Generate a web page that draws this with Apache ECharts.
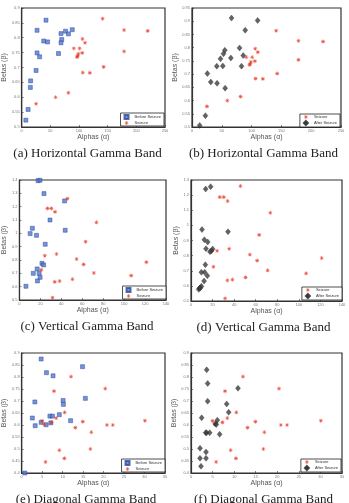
<!DOCTYPE html>
<html>
<head>
<meta charset="utf-8">
<script src="https://cdn.jsdelivr.net/npm/echarts@6/dist/echarts.min.js"></script>
<style>
    html, body {margin: 0; padding: 0; background: #fff;}
    #main {width: 349px; height: 503px;}
</style>
</head>
<body>
<div id="main"></div>
<script>
// horizontal gamma band  [alpha, beta]
const hBefore = [[42.4, 0.859], [26.8, 0.825], [76.5, 0.822], [88.2, 0.827], [68.6, 0.814], [81.5, 0.813],
    [38.5, 0.789], [45.2, 0.786], [69.8, 0.794], [68.6, 0.783], [26.8, 0.749], [31.3, 0.736], [64.2, 0.747],
    [25.1, 0.690], [15.6, 0.655], [15.1, 0.633], [11.2, 0.559], [7.3, 0.523]];
const hSeizure = [[141.2, 0.864], [178.6, 0.826], [219.9, 0.823], [106.0, 0.796], [110.5, 0.783], [91.0, 0.764],
    [101.0, 0.764], [105.5, 0.749], [98.8, 0.746], [97.8, 0.739], [96.5, 0.735], [178.6, 0.754], [142.9, 0.702],
    [106.6, 0.683], [118.9, 0.682], [81.5, 0.615], [59.2, 0.600], [25.1, 0.578]];
const hAfter = [[66.3, 0.912], [110.1, 0.903], [89.3, 0.866], [79.8, 0.799], [55.1, 0.790], [52.8, 0.777],
    [86.0, 0.770], [47.8, 0.758], [65.2, 0.761], [41.6, 0.730], [51.7, 0.731], [83.1, 0.730], [25.8, 0.702],
    [31.5, 0.670], [42.1, 0.665], [55.6, 0.647], [22.5, 0.543], [12.9, 0.506]];

// vertical gamma band
const vBefore = [[17.8, 1.395], [19.6, 1.398], [23.4, 1.298], [43.1, 1.243], [29.2, 1.100], [12.3, 1.038],
    [10.2, 0.998], [16.3, 0.985], [43.7, 1.023], [24.6, 0.918], [21.5, 0.775], [23.1, 0.763], [16.9, 0.733],
    [13.2, 0.700], [18.8, 0.700], [19.7, 0.670], [17.2, 0.643], [6.2, 0.603]];
const vSeizure = [[45.8, 1.260], [26.7, 1.187], [30.4, 1.187], [34.0, 1.161], [73.5, 1.083], [63.2, 0.937],
    [35.4, 0.845], [24.2, 0.832], [54.6, 0.807], [61.3, 0.767], [121.2, 0.784], [20.8, 0.726], [71.1, 0.703],
    [106.7, 0.683], [50.6, 0.656], [38.4, 0.642], [33.7, 0.636], [31.6, 0.517]];
const vAfter = [[13.6, 1.240], [18.2, 1.256], [10.2, 0.972], [34.3, 0.958], [12.4, 0.905], [15.5, 0.890],
    [13.9, 0.846], [20.1, 0.844], [18.9, 0.831], [17.6, 0.826], [13.3, 0.740], [9.6, 0.690], [12.7, 0.690],
    [15.1, 0.667], [12.1, 0.632], [9.6, 0.597], [7.1, 0.577], [8.0, 0.584], [8.7, 0.588]];

// diagonal gamma band
const dBefore = [[4.75, 0.875], [14.86, 0.843], [6.05, 0.818], [7.66, 0.805], [15.55, 0.711], [3.22, 0.696],
    [10.11, 0.702], [10.18, 0.686], [9.19, 0.643], [6.89, 0.637], [7.51, 0.637], [2.60, 0.629], [11.95, 0.618],
    [4.75, 0.611], [3.29, 0.597], [5.97, 0.601], [7.12, 0.609], [0.77, 0.400]];
const dSeizure = [[12.05, 0.802], [20.4, 0.752], [7.89, 0.741], [10.49, 0.653], [8.42, 0.629], [4.98, 0.617],
    [5.51, 0.603], [7.28, 0.611], [14.93, 0.614], [30.10, 0.618], [20.83, 0.600], [22.26, 0.600], [13.10, 0.589],
    [17.00, 0.570], [16.77, 0.500], [9.19, 0.495], [10.42, 0.461], [5.82, 0.446]];
const dAfter = [[3.63, 0.830], [3.86, 0.773], [10.89, 0.753], [3.86, 0.699], [8.27, 0.688], [8.73, 0.653],
    [2.47, 0.630], [6.10, 0.620], [5.64, 0.605], [5.87, 0.602], [3.40, 0.568], [3.63, 0.568], [4.33, 0.568],
    [6.64, 0.561], [2.09, 0.503], [3.48, 0.487], [2.09, 0.461], [3.48, 0.461], [2.32, 0.428]];

const captions = ['(a) Horizontal Gamma Band', '(b) Horizontal Gamma Band', '(c) Vertical Gamma Band',
    '(d) Vertical Gamma Band', '(e) Diagonal Gamma Band', '(f) Diagonal Gamma Band'];

// x range / y range per panel
const xRanges = [[0, 250, 50], [0, 250, 50], [0, 140, 20], [0, 140, 20], [0, 35, 5], [0, 35, 5]];
const yRanges = [[0.5, 0.9, 0.05], [0.5, 0.95, 0.05], [0.5, 1.4, 0.1], [0.5, 1.3, 0.1], [0.4, 0.9, 0.05], [0.4, 0.9, 0.05]];

const grids = [
    {left: 16, top: 8, width: 149, height: 119},
    {left: 192, top: 8, width: 149, height: 119},
    {left: 14, top: 180, width: 152, height: 120},
    {left: 191, top: 180, width: 151, height: 121},
    {left: 13, top: 353, width: 152, height: 120},
    {left: 191, top: 353, width: 151, height: 120}
];
const legendPos = [
    {right: 185, bottom: 377}, {right: 9, bottom: 376},
    {right: 183, bottom: 204}, {right: 7, bottom: 203},
    {right: 184, bottom: 31}, {right: 8, bottom: 31}
];

const sans = 'Liberation Sans';
const star = 'path://M-0.15,-1H0.15V1H-0.15Z M-1,-0.15H1V0.15H-1Z M-0.81,-0.6L-0.6,-0.81L0.81,0.6L0.6,0.81Z M0.6,-0.81L0.81,-0.6L-0.6,0.81L-0.81,0.6Z';

const fmt = v => String(Number(v.toFixed(2)));

const before = (data, i) => ({
    name: 'Before Seizure', type: 'scatter', xAxisIndex: i, yAxisIndex: i, data: data,
    symbol: 'rect', symbolSize: 4,
    itemStyle: {color: '#5577cc', borderColor: '#2b4a9e', borderWidth: 0.6}
});
const seizure = (data, i) => ({
    name: 'Seizure', type: 'scatter', xAxisIndex: i, yAxisIndex: i, data: data,
    symbol: star, symbolSize: 4,
    itemStyle: {color: '#e8321e'}
});
const after = (data, i) => ({
    name: 'After Seizure', type: 'scatter', xAxisIndex: i, yAxisIndex: i, data: data,
    symbol: 'diamond', symbolSize: [5, 6],
    itemStyle: {color: '#3c3c3c', borderColor: '#222', borderWidth: 0.4}
});

const series = [
    before(hBefore, 0), seizure(hSeizure, 0),
    seizure(hSeizure, 1), after(hAfter, 1),
    before(vBefore, 2), seizure(vSeizure, 2),
    seizure(vSeizure, 3), after(vAfter, 3),
    before(dBefore, 4), seizure(dSeizure, 4),
    seizure(dSeizure, 5), after(dAfter, 5)
];

const myChart = echarts.init(document.getElementById('main'));
myChart.setOption({
    animation: false,
    grid: grids.map(g => Object.assign({show: true, borderColor: '#333', borderWidth: 1.2, backgroundColor: '#fff'}, g)),
    xAxis: xRanges.map((r, i) => ({
        type: 'value', gridIndex: i, min: r[0], max: r[1], interval: r[2],
        name: 'Alphas (α)', nameLocation: 'middle', nameGap: 7,
        nameTextStyle: {fontFamily: sans, fontSize: 7, color: '#555'},
        axisLine: {lineStyle: {color: '#333', width: 1.2}},
        axisTick: {inside: true, length: 2, lineStyle: {color: '#333', width: 0.6}},
        axisLabel: {fontFamily: sans, fontSize: 4, color: '#777', margin: 2, formatter: fmt},
        splitLine: {show: false}
    })),
    yAxis: yRanges.map((r, i) => ({
        type: 'value', gridIndex: i, min: r[0], max: r[1], interval: r[2],
        name: 'Betas (β)', nameLocation: 'middle', nameGap: 9,
        nameTextStyle: {fontFamily: sans, fontSize: 7, color: '#555'},
        axisLine: {lineStyle: {color: '#333', width: 1.2}},
        axisTick: {inside: true, length: 2, lineStyle: {color: '#333', width: 0.6}},
        axisLabel: {fontFamily: sans, fontSize: 4, color: '#777', margin: 2, formatter: fmt},
        splitLine: {show: false}
    })),
    legend: legendPos.map((p, i) => Object.assign({
        orient: 'vertical',
        data: i % 2 === 0 ? ['Before Seizure', 'Seizure'] : ['Seizure', 'After Seizure'],
        itemWidth: 4, itemHeight: 4, itemGap: 1,
        padding: [1, 3, 1, 3],
        borderColor: '#222', borderWidth: 0.8, backgroundColor: '#fff',
        textStyle: {fontFamily: sans, fontSize: 4, color: '#333', padding: [0, 0, 0, 1]},
        selectedMode: false
    }, p)),
    graphic: captions.map((c, i) => ({
        type: 'text',
        x: grids[i].left + grids[i].width / 2 - 3,
        y: grids[i].top + grids[i].height + 27,
        style: {
            text: c, fontFamily: 'Liberation Serif', fontSize: 13, fill: '#222',
            textAlign: 'center', textVerticalAlign: 'middle'
        }
    })),
    series: series
});
</script>
</body>
</html>
